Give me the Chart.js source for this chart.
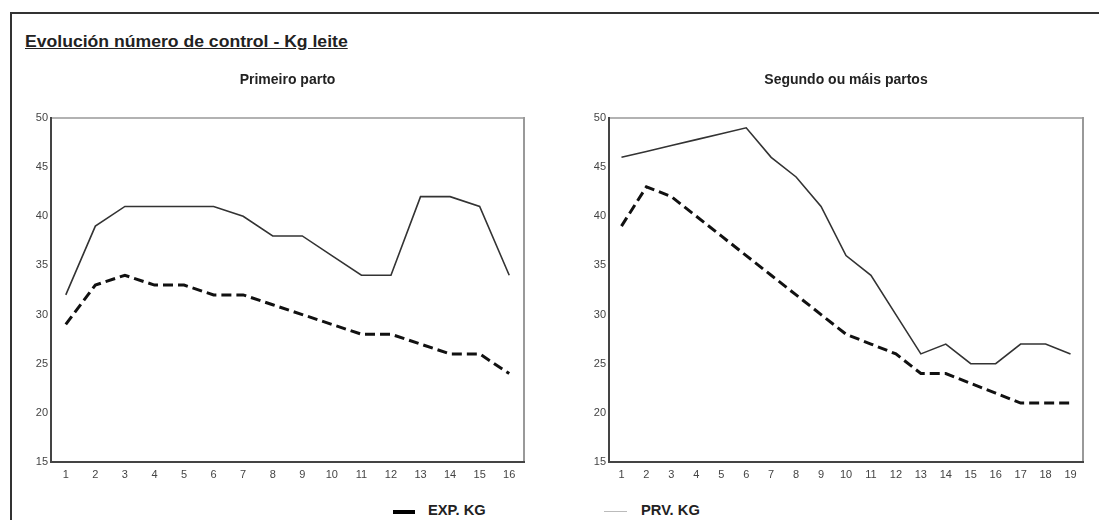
<!DOCTYPE html>
<html>
<head>
<meta charset="utf-8">
<script src="https://cdn.jsdelivr.net/npm/chart.js@4.4.1/dist/chart.umd.min.js"></script>
<style>
  html, body { margin:0; padding:0; background:#fff; }
  body { width:1099px; height:520px; position:relative; overflow:hidden; font-family:"Liberation Sans", Arial, sans-serif; }
  #frame { position:absolute; left:10px; top:12px; width:1200px; height:700px; border-left:2px solid #333; border-top:2px solid #333; }
  #mainTitle { position:absolute; left:25px; top:33px; font-size:16px; font-weight:bold; color:#222; text-decoration:underline; white-space:nowrap; transform:scaleX(1.1); transform-origin:left center; }
  .chartBox { position:absolute; top:0; height:490px; }
  #legend { position:absolute; top:502px; left:0; width:1099px; height:18px; }
  .lgSym { position:absolute; }
  .lgTxt { position:absolute; font-size:14px; font-weight:bold; color:#222; top:0px; white-space:nowrap; transform:scaleX(1.05); transform-origin:left center; }
</style>
</head>
<body>
<div id="frame"></div>
<div id="mainTitle">Evolución número de control - Kg leite</div>
<div class="chartBox" style="left:0;width:549px;"><canvas id="c1"></canvas></div>
<div class="chartBox" style="left:549px;width:550px;"><canvas id="c2"></canvas></div>
<div id="legend">
  <div class="lgSym" style="left:393px;top:8px;width:22px;height:4px;background:#000;"></div>
  <div class="lgTxt" style="left:428px;">EXP. KG</div>
  <div class="lgSym" style="left:604px;top:9px;width:23px;height:1px;background:#bbb;"></div>
  <div class="lgTxt" style="left:641px;">PRV. KG</div>
</div>
<script>
// ---- data ----
const firstLabels = ["1","2","3","4","5","6","7","8","9","10","11","12","13","14","15","16"];
const firstExp = [29,33,34,33,33,32,32,31,30,29,28,28,27,26,26,24];
const firstPrv = [32,39,41,41,41,41,40,38,38,36,34,34,42,42,41,34];

const secondLabels = ["1","2","3","4","5","6","7","8","9","10","11","12","13","14","15","16","17","18","19"];
const secondExp = [39,43,42,40,38,36,34,32,30,28,27,26,24,24,23,22,21,21,21];
const secondPrv = [46,46.6,47.2,47.8,48.4,49,46,44,41,36,34,30,26,27,25,25,27,27,26];

const yTicks = [15,20,25,30,35,40,45,50];
const seriesNames = ["EXP. KG","PRV. KG"];
const chartTitles = ["Primeiro parto","Segundo ou máis partos"];

const FONT = '"Liberation Sans", Arial, sans-serif';

const boxPlugin = {
  id: 'boxPlugin',
  afterDatasetsDraw(chart) {
    const {ctx, chartArea:a} = chart;
    ctx.save();
    ctx.lineCap = 'square';
    ctx.strokeStyle = '#999';
    ctx.lineWidth = 1.5;
    ctx.beginPath(); ctx.moveTo(a.left, a.top); ctx.lineTo(a.right, a.top); ctx.stroke();
    ctx.lineWidth = 2;
    ctx.beginPath(); ctx.moveTo(a.right, a.top); ctx.lineTo(a.right, a.bottom); ctx.stroke();
    ctx.strokeStyle = '#444';
    ctx.lineWidth = 2;
    ctx.beginPath(); ctx.moveTo(a.left, a.top); ctx.lineTo(a.left, a.bottom); ctx.lineTo(a.right, a.bottom); ctx.stroke();
    ctx.restore();
  }
};

function makeChart(id, labels, exp, prv, title, padLeft, padRight) {
  return new Chart(document.getElementById(id), {
    type: 'line',
    data: {
      labels: labels,
      datasets: [
        { label: seriesNames[0], data: exp, borderColor: '#111', borderWidth: 3, borderDash: [10,5],
          pointRadius: 0, tension: 0, fill: false },
        { label: seriesNames[1], data: prv, borderColor: '#333', borderWidth: 1.6,
          pointRadius: 0, tension: 0, fill: false }
      ]
    },
    options: {
      responsive: true,
      maintainAspectRatio: false,
      animation: false,
      layout: { padding: { left: padLeft, right: padRight, top: 0, bottom: 8 } },
      plugins: {
        legend: { display: false },
        tooltip: { enabled: false },
        title: { display: true, text: title, fullSize: false, color: '#222',
          font: { family: FONT, size: 14, weight: 'bold', lineHeight: 1.2 },
          padding: { top: 72, bottom: 29.2 } }
      },
      scales: {
        x: {
          offset: true,
          grid: { display: false, drawTicks: false },
          border: { display: false },
          ticks: { color: '#444', font: { family: FONT, size: 11 }, padding: 6, maxRotation: 0, autoSkip: false },
          afterFit: s => { s.height = 20; }
        },
        y: {
          min: 15, max: 50,
          afterBuildTicks: s => { s.ticks = yTicks.map(v => ({ value: v })); },
          grid: { display: false, drawTicks: false },
          border: { display: false },
          ticks: { color: '#444', font: { family: FONT, size: 11 }, padding: 3 },
          afterFit: s => { s.width = 20; }
        }
      }
    },
    plugins: [boxPlugin]
  });
}

makeChart('c1', firstLabels, firstExp, firstPrv, chartTitles[0], 31, 25);
makeChart('c2', secondLabels, secondExp, secondPrv, chartTitles[1], 40, 16);
</script>
</body>
</html>
